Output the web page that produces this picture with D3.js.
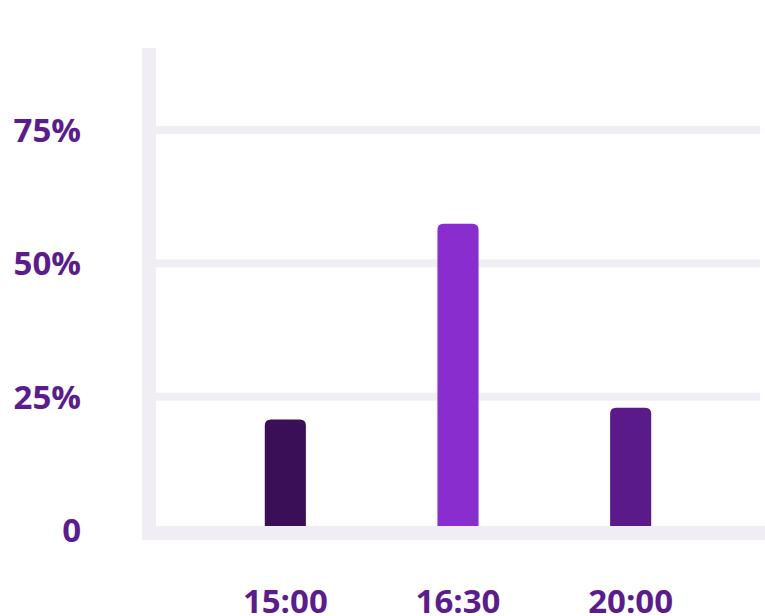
<!DOCTYPE html>
<html>
<head>
<meta charset="utf-8">
<script src="https://cdn.jsdelivr.net/npm/d3@7"></script>
<style>
  body { margin: 0; background: #fff; }
  text { font-family: "Open Sans", "Noto Sans", sans-serif; font-weight: 700; fill: #5b1c8c; }
</style>
</head>
<body>
<div id="chart"></div>
<script>
var categories = ['15:00', '16:30', '20:00'];
var values = [20.7, 57.4, 22.9];
var barColors = ['#3b0f58', '#8a2dcf', '#5a1a8a'];
var yTicks = [0, 25, 50, 75];
var yTickLabels = ['0', '25%', '50%', '75%'];

function renderBarChart(selector) {
    var width = 765,
        height = 616;

    var plotLeft = 156,
        plotRight = 760;

    // scales
    var x = d3.scaleBand()
        .domain(categories)
        .range([plotLeft, plotRight])
        .paddingInner(0.762)
        .paddingOuter(0.63);

    var y = d3.scaleLinear()
        .domain([0, 90])
        .range([530, 50]);

    var svg = d3.select(selector).append('svg')
        .attr('width', width)
        .attr('height', height);

    // gridlines
    svg.selectAll('.grid')
        .data(yTicks.filter(function (d) { return d > 0; }))
        .enter()
        .append('rect')
        .attr('class', 'grid')
        .attr('x', plotLeft)
        .attr('width', plotRight - plotLeft)
        .attr('y', function (d) { return y(d) - 4; })
        .attr('height', 8)
        .style('fill', '#f0eef4');

    // bars, rounded top corners only
    var r = 6, bw = x.bandwidth();
    svg.selectAll('.bar')
        .data(values)
        .enter()
        .append('path')
        .attr('class', 'bar')
        .attr('d', function (d, i) {
            var x0 = x(categories[i]), x1 = x0 + bw,
                top = y(d), bottom = y(0);
            return 'M' + x0 + ',' + bottom +
                'V' + (top + r) +
                'Q' + x0 + ',' + top + ' ' + (x0 + r) + ',' + top +
                'H' + (x1 - r) +
                'Q' + x1 + ',' + top + ' ' + x1 + ',' + (top + r) +
                'V' + bottom + 'Z';
        })
        .style('fill', function (d, i) { return barColors[i]; });

    // axis bands
    svg.append('rect')
        .attr('x', plotLeft - 14)
        .attr('y', y(90) - 2)
        .attr('width', 14)
        .attr('height', y(0) + 10 - (y(90) - 2))
        .style('fill', '#f0eef4');

    svg.append('rect')
        .attr('x', plotLeft - 14)
        .attr('y', y(0) - 4)
        .attr('width', width - plotLeft + 14)
        .attr('height', 14)
        .style('fill', '#f0eef4');

    // y labels
    svg.selectAll('.ylabel')
        .data(yTicks)
        .enter()
        .append('text')
        .attr('class', 'ylabel')
        .attr('x', 81)
        .attr('y', function (d) { return y(d); })
        .attr('dy', '0.36em')
        .attr('text-anchor', 'end')
        .style('font-size', '33px')
        .text(function (d, i) { return yTickLabels[i]; });

    // x labels
    svg.selectAll('.xlabel')
        .data(categories)
        .enter()
        .append('text')
        .attr('class', 'xlabel')
        .attr('x', function (d) { return x(d) + bw / 2; })
        .attr('y', 613)
        .attr('text-anchor', 'middle')
        .style('font-size', '33px')
        .text(function (d) { return d; });
}

renderBarChart('#chart');
</script>
</body>
</html>
